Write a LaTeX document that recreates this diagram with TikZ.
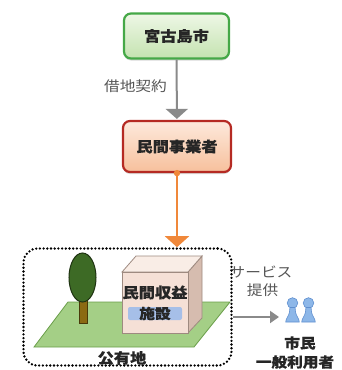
\documentclass[tikz,border=0pt]{standalone}
\usepackage{fontspec}
\newfontfamily\jp{Noto Sans CJK JP}[FakeStretch=1.12, BoldFeatures={FakeBold=0.6}]
\usetikzlibrary{arrows.meta,shadows,calc}

\definecolor{cityline}{HTML}{45A847}
\definecolor{citytop}{HTML}{EEF7E6}
\definecolor{citybot}{HTML}{C4E3B0}
\definecolor{bizline}{HTML}{B52A23}
\definecolor{biztop}{HTML}{FDE9DC}
\definecolor{bizbot}{HTML}{F7C09C}
\definecolor{arrowgray}{HTML}{8A8A8A}
\definecolor{labelgray}{HTML}{555555}
\definecolor{flow}{HTML}{F0883A}
\definecolor{lawn}{HTML}{A4CF86}
\definecolor{lawnline}{HTML}{6A9E4A}
\definecolor{crown}{HTML}{3D6A25}
\definecolor{crownline}{HTML}{1F3312}
\definecolor{trunk}{HTML}{8B6A12}
\definecolor{trunkline}{HTML}{4A3A0A}
\definecolor{wallfront}{HTML}{F5E0D6}
\definecolor{walltop}{HTML}{F9EDE6}
\definecolor{wallside}{HTML}{D6BCAF}
\definecolor{wallline}{HTML}{9E8A80}
\definecolor{signblue}{HTML}{A6BFE8}
\definecolor{person}{HTML}{8DB7E8}
\definecolor{personline}{HTML}{5F8FCF}

\tikzset{
  boxtext/.style={font=\jp\bfseries\fontsize{14.5}{14.5}\selectfont, text=black!85},
  citybox/.style={boxtext, draw=cityline, line width=2.2pt, rounded corners=7pt,
    top color=citytop, bottom color=citybot, minimum width=105pt, minimum height=45pt,
    drop shadow={shadow xshift=0pt, shadow yshift=-2pt, opacity=0.3}},
  bizbox/.style={boxtext, draw=bizline, line width=2.2pt, rounded corners=7pt,
    top color=biztop, bottom color=bizbot, minimum width=108pt, minimum height=51pt,
    drop shadow={shadow xshift=0pt, shadow yshift=-2pt, opacity=0.3}},
  sitebox/.style={draw=black, line width=2.6pt, dash pattern=on 0pt off 3.7pt,
    line cap=round, rounded corners=14pt, minimum width=208pt, minimum height=117pt},
  grayarrow/.style={draw=arrowgray, line width=2pt,
    -{Triangle[width=22pt,length=10pt]}},
  smallgrayarrow/.style={draw=arrowgray, line width=2pt,
    -{Triangle[width=12pt,length=9pt]}},
  flowarrow/.style={draw=flow, line width=2pt,
    -{Triangle[width=24pt,length=11pt]}},
  graylabel/.style={font=\jp\fontsize{14}{14}\selectfont, text=labelgray, inner sep=0pt},
  darklabel/.style={font=\jp\bfseries\fontsize{14}{14}\selectfont, text=black!85, inner sep=0pt},
  personicon/.pic={
    \fill[person, draw=personline, line width=0.6pt] (0,0) circle (5.3);
    \fill[person, draw=personline, line width=0.6pt]
      (-2.6,4.5) -- (2.6,4.5) -- (3,9) .. controls (3.6,13) and (6.5,15) .. (6.8,19)
      -- (-6.8,19) .. controls (-6.5,15) and (-3.6,13) .. (-3,9) -- cycle;
  }
}

\begin{document}
\begin{tikzpicture}[x=1pt,y=-1pt]
\useasboundingbox (0,0) rectangle (341,370);

% city and operator
\node[citybox] (city) at (176.5,36) {宮古島市};
\node[bizbox] (biz) at (177,146.5) {民間事業者};
\draw[grayarrow, shorten >=1pt] (city) -- (biz);
\node[graylabel, anchor=east] (lease) at (167,86.5) {借地契約};

% public land area
\node[sitebox] (site) at (127.5,307) {};

% lawn
\filldraw[fill=lawn, draw=lawnline, line width=0.8pt]
  (68,302) -- (230,302) -- (194,347) -- (34,347) -- cycle;

% tree
\filldraw[fill=trunk, draw=trunkline, line width=0.8pt] (79,298) rectangle (87,323);
\filldraw[fill=crown, draw=crownline, line width=1pt] (82.5,277.5) ellipse (13.5 and 24.5);

% building
\filldraw[fill=wallside, draw=wallline, line width=0.8pt]
  (188,272) -- (202,256) -- (202,318) -- (188,333) -- cycle;
\filldraw[fill=walltop, draw=wallline, line width=0.8pt]
  (122,272) -- (136,256) -- (202,256) -- (188,272) -- cycle;
\filldraw[fill=wallfront, draw=wallline, line width=0.8pt] (122,272) rectangle (188,333);
\fill[signblue, rounded corners=2pt] (128,307) rectangle (182,320);
\node[darklabel, font=\jp\bfseries\fontsize{14.5}{14.5}\selectfont] (facility) at (155,292.5) {民間収益};
\node[darklabel] (facility2) at (155,313.5) {施設};

\node[darklabel, font=\jp\bfseries\fontsize{14.5}{14.5}\selectfont] (land) at (122,358) {公有地};

% operator to land
\fill[flow] (biz.south) circle (3.2);
\draw[flowarrow] (biz.south) -- (biz.south |- site.north);

% service to citizens
\coordinate (users) at (279,317);
\draw[smallgrayarrow] (site.east |- users) -- (users);
\node[graylabel] (service) at (261,272) {サービス};
\node[graylabel] (provide) at (262.5,290.5) {提供};

\pic at (292.5,303) {personicon};
\pic at (308.5,303) {personicon};
\node[darklabel] (citizen) at (300,343) {市民};
\node[darklabel] (general) at (295,362) {一般利用者};
\end{tikzpicture}
\end{document}
